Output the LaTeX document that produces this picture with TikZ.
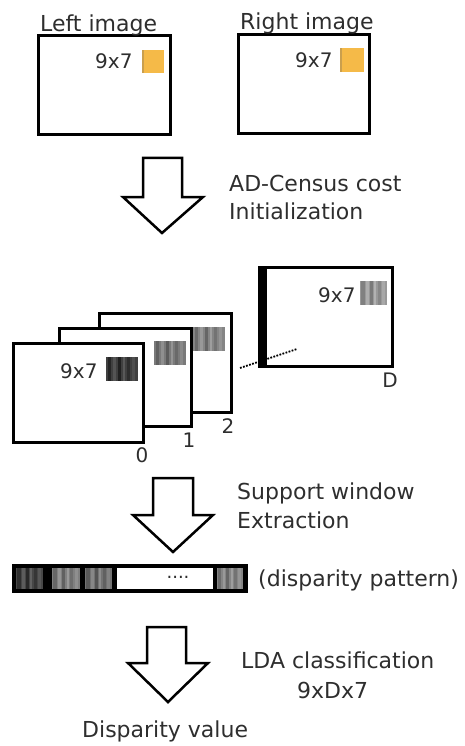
\documentclass[tikz,border=0pt]{standalone}
\usepackage{fontspec}
\setmainfont{DejaVu Sans}
\definecolor{txt}{HTML}{2E2E2E}
\definecolor{orng}{RGB}{245,186,72}
\newcommand\mypat[5]{%
  \fill[black!#5] (#1,#2) rectangle (#3,#4);
  \foreach \f/\w/\d in {0.05/0.12/10,0.22/0.1/-8,0.36/0.12/12,0.52/0.08/-10,0.66/0.1/7,0.82/0.1/-6}{%
    \pgfmathsetmacro\xa{#1+\f*(#3-#1)}
    \pgfmathsetmacro\xb{\xa+\w*(#3-#1)}
    \pgfmathtruncatemacro\sh{min(100,max(0,#5+\d))}
    \fill[black!\sh] (\xa,#2) rectangle (\xb,#4);
  }}
\tikzset{
  lbl/.style={inner sep=0pt, text=txt, font=\fontsize{22}{26}\selectfont, anchor=base west},
  small/.style={inner sep=0pt, text=txt, font=\fontsize{20}{24}\selectfont, anchor=base west},
  num/.style={inner sep=0pt, text=txt, font=\fontsize{20}{24}\selectfont},
  box/.style={line width=3pt, fill=white},
  bigarrow/.style={line width=2.5pt, line join=miter, fill=white}
}
\begin{document}
\begin{tikzpicture}[x=1pt,y=-1pt]
\useasboundingbox (0,0) rectangle (465,746);
% top images
\draw[box] (38,36) rectangle (170,135);
\draw[box] (238,35) rectangle (369,134);
\node[lbl] (lt) at (40,32) {Left image};
\node[lbl] (rt) at (240,30) {Right image};
\node[small] (l97) at (95,69) {9x7};
\node[small] (r97) at (295,68) {9x7};
\fill[orng] (142,50) rectangle (164,73);
\fill[orng!80!black!90] (142,50) rectangle (144,73);
\fill[orng] (340,48) rectangle (364,72);
\fill[orng!80!black!90] (340,48) rectangle (342,72);
% arrow 1
\draw[bigarrow] (143,158) -- (182,158) -- (182,197) -- (203,197) -- (162,233) -- (123,197) -- (143,197) -- cycle;
\node[lbl] (s1a) at (229,191) {AD-Census cost};
\node[lbl] (s1b) at (229,219) {Initialization};
% D box
\draw[box] (259,267) rectangle (392,366);
\fill[black] (258,265.5) rectangle (267,367.5);
\node[small] (d97) at (318,302) {9x7};
\mypat{360}{281}{387}{305}{40}
\node[num] (dl) at (390,380) {D};
\draw[line width=1.8pt, dash pattern=on 1.8pt off 1.4pt] (240,368) -- (297,349);
% stack
\draw[box] (99,313) rectangle (231,412);
\mypat{193}{327}{225}{351}{48}
\draw[box] (59,328) rectangle (191,426);
\mypat{154}{341}{186}{365}{52}
\draw[box] (13,343) rectangle (143,442);
\mypat{106}{357}{138}{381}{75}
\node[small] (s97) at (60,378) {9x7};
\node[num] (n2) at (228,426) {2};
\node[num] (n1) at (189,440) {1};
\node[num] (n0) at (142,455) {0};
% arrow 2
\draw[bigarrow] (153,478) -- (193,478) -- (193,515) -- (213,515) -- (173,552) -- (133,515) -- (153,515) -- cycle;
\node[lbl] (s2a) at (237,499) {Support window};
\node[lbl] (s2b) at (237,528) {Extraction};
% disparity bar
\fill[black] (12,564) rectangle (248,593);
\mypat{16}{568}{43}{589}{72}
\mypat{52}{568}{80}{589}{50}
\mypat{85}{568}{112}{589}{55}
\fill[white] (117,568) rectangle (213,589);
\mypat{217}{568}{243}{589}{48}
\node[inner sep=0pt, text=txt, font=\fontsize{18}{20}\selectfont] (dots) at (178,577) {....};
\node[lbl] (dp) at (258,586) {(disparity pattern)};
% arrow 3
\draw[bigarrow] (147,627) -- (186,627) -- (186,663) -- (208,663) -- (168,702) -- (128,663) -- (147,663) -- cycle;
\node[lbl] (s3a) at (241,668) {LDA classification};
\node[lbl] (s3b) at (297,698) {9xDx7};
\node[lbl] (dv) at (82,737) {Disparity value};
\end{tikzpicture}
\end{document}
